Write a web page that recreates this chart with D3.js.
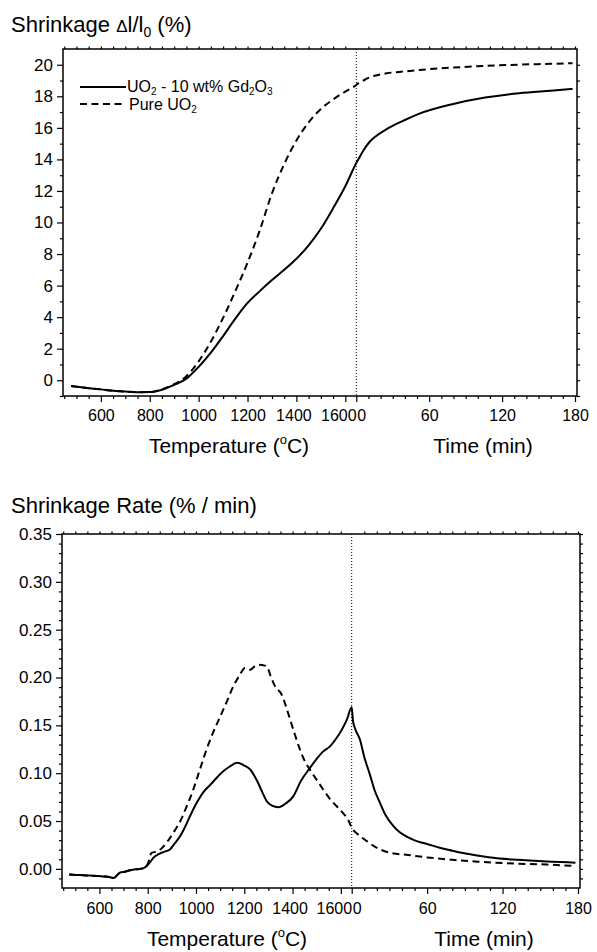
<!DOCTYPE html>
<html>
<head>
<meta charset="utf-8">
<script src="https://cdn.jsdelivr.net/npm/d3@7"></script>
<style>
  body { margin: 0; background: #fff; }
  text { font-family: "Liberation Sans", Arial, sans-serif; fill: #000; }
</style>
</head>
<body>
<svg id="chart" width="597" height="952"></svg>
<script>
// ---- top panel: shrinkage dl/l0 (%) ----
const shrinkTemp = [478, 520, 560, 600, 650, 700, 750, 800, 850, 900, 950, 1000, 1050, 1100, 1150, 1200, 1250, 1300, 1350, 1400, 1450, 1500, 1550, 1600, 1645];
const shrinkGdTemp = [-0.37, -0.45, -0.52, -0.58, -0.66, -0.72, -0.76, -0.75, -0.6, -0.3, 0.1, 0.85, 1.75, 2.8, 3.9, 4.9, 5.65, 6.35, 7.0, 7.7, 8.55, 9.6, 10.9, 12.3, 13.77];
const shrinkPureTemp = [-0.37, -0.45, -0.52, -0.58, -0.66, -0.72, -0.76, -0.75, -0.58, -0.25, 0.25, 1.2, 2.45, 3.95, 5.65, 7.45, 9.5, 11.85, 13.7, 15.2, 16.35, 17.2, 17.8, 18.3, 18.72];
const shrinkTime = [0, 2, 5.7, 11, 15, 25, 40, 52, 79, 106, 134, 160, 178];
const shrinkGdTime = [13.77, 14.05, 14.55, 15.12, 15.4, 15.92, 16.5, 16.9, 17.5, 17.92, 18.2, 18.36, 18.47];
const shrinkPureTime = [18.72, 18.85, 19.0, 19.2, 19.3, 19.46, 19.58, 19.67, 19.82, 19.93, 20.01, 20.06, 20.1];

// ---- bottom panel: shrinkage rate (% / min) ----
const rateGdT = [475, 520, 560, 600, 640, 660, 672, 685, 705, 727, 750, 768, 785, 796, 810, 823, 850, 870, 892, 910, 934, 955, 975, 1003, 1030, 1060, 1085, 1113, 1140, 1171, 1200, 1224, 1255, 1275, 1293, 1315, 1341, 1370, 1403, 1435, 1472, 1500, 1527, 1555, 1580, 1604, 1625, 1645];
const rateGdTVal = [-0.006, -0.0065, -0.007, -0.0075, -0.0085, -0.0095, -0.007, -0.004, -0.003, -0.0015, -0.0005, 0.0, 0.001, 0.003, 0.007, 0.0115, 0.016, 0.018, 0.0202, 0.026, 0.034, 0.044, 0.055, 0.069, 0.080, 0.088, 0.095, 0.102, 0.107, 0.111, 0.108, 0.104, 0.091, 0.080, 0.0706, 0.066, 0.0644, 0.068, 0.0758, 0.092, 0.1055, 0.115, 0.1228, 0.128, 0.136, 0.1455, 0.156, 0.169];
const rateGdTime = [0, 1, 2.6, 6.6, 10, 14.6, 18, 22.5, 27, 33, 38.5, 45, 51.7, 60, 70, 80, 91.6, 105, 118, 132, 145, 160, 178];
const rateGdTimeVal = [0.169, 0.155, 0.147, 0.135, 0.117, 0.098, 0.083, 0.069, 0.056, 0.045, 0.038, 0.033, 0.029, 0.026, 0.022, 0.019, 0.0158, 0.013, 0.0108, 0.0095, 0.0085, 0.0075, 0.0065];
const ratePureT = [475, 520, 560, 600, 640, 660, 672, 685, 705, 727, 750, 768, 785, 800, 816, 835, 851, 880, 906, 941, 961, 989, 1015, 1044, 1070, 1100, 1128, 1155, 1180, 1203, 1224, 1245, 1258, 1275, 1293, 1310, 1327, 1355, 1370, 1390, 1410, 1431, 1450, 1472, 1500, 1527, 1555, 1583, 1610, 1631, 1645];
const ratePureTVal = [-0.006, -0.0065, -0.007, -0.0075, -0.0085, -0.0095, -0.007, -0.004, -0.003, -0.0015, -0.0005, 0.0, 0.001, 0.005, 0.0167, 0.018, 0.020, 0.028, 0.0376, 0.053, 0.065, 0.083, 0.103, 0.125, 0.142, 0.159, 0.175, 0.191, 0.202, 0.210, 0.208, 0.212, 0.2134, 0.213, 0.2116, 0.201, 0.191, 0.182, 0.172, 0.156, 0.14, 0.1246, 0.113, 0.1037, 0.093, 0.083, 0.073, 0.0654, 0.058, 0.051, 0.043];
const ratePureTime = [0, 5, 12, 20, 30, 45, 60, 80, 100, 130, 155, 178];
const ratePureTimeVal = [0.043, 0.036, 0.029, 0.022, 0.017, 0.0145, 0.012, 0.0095, 0.0075, 0.0055, 0.0045, 0.003];

// ticks
const tempTicks = [600, 800, 1000, 1200, 1400, 1600];
const timeTicks = [0, 60, 120, 180];
const shrinkTicks = [0, 2, 4, 6, 8, 10, 12, 14, 16, 18, 20];
const rateTicks = [0.00, 0.05, 0.10, 0.15, 0.20, 0.25, 0.30, 0.35];

const svg = d3.select('#chart');
const FONT = '"Liberation Sans", Arial, sans-serif';

function styleAxis(g, size) {
    g.attr('font-family', FONT).attr('font-size', size);
    g.select('.domain').remove();
    g.selectAll('.tick line').attr('stroke', '#000').attr('stroke-width', 1.2);
}

function panel(o) {
    const g = svg.append('g');
    const xT = d3.scaleLinear().domain([445, 1645]).range([o.left, o.split]);
    const xt = d3.scaleLinear().domain([0, 180]).range([o.split, o.t180]);
    const y = d3.scaleLinear().domain(o.yDomain).range([o.bottom, o.top]);

    const tempMinor = d3.range(450, 1645, 50).filter(d => !tempTicks.includes(d));
    const timeMinor = d3.range(10, 181, 10).filter(d => !timeTicks.includes(d));

    // bottom axis, labels around the ramp/hold split pushed apart as in the original
    g.append('g').attr('transform', `translate(0,${o.bottom})`)
        .call(d3.axisBottom(xT).tickValues(tempTicks).tickSize(6).tickPadding(o.xPad).tickFormat(d3.format('d')))
        .call(a => styleAxis(a, 16))
        .call(a => a.selectAll('.tick text').attr('dx', d => d === 1600 ? -7 : (d === 1400 ? -3 : 0)));
    g.append('g').attr('transform', `translate(0,${o.bottom})`)
        .call(d3.axisBottom(xt).tickValues(timeTicks).tickSize(6).tickPadding(o.xPad).tickFormat(d3.format('d')))
        .call(a => styleAxis(a, 16))
        .call(a => a.selectAll('.tick text').attr('dx', d => d === 0 ? 5 : 0));
    g.append('g').attr('transform', `translate(0,${o.bottom})`)
        .call(d3.axisBottom(xT).tickValues(tempMinor).tickSize(3).tickFormat(''))
        .call(a => styleAxis(a, 10));
    g.append('g').attr('transform', `translate(0,${o.bottom})`)
        .call(d3.axisBottom(xt).tickValues(timeMinor).tickSize(3).tickFormat(''))
        .call(a => styleAxis(a, 10));

    // top mirror ticks
    g.append('g').attr('transform', `translate(0,${o.top})`)
        .call(d3.axisTop(xT).tickValues(d3.range(450, 1645, 50)).tickSize(2.5).tickFormat(''))
        .call(a => styleAxis(a, 10));
    g.append('g').attr('transform', `translate(0,${o.top})`)
        .call(d3.axisTop(xt).tickValues(d3.range(10, 181, 10)).tickSize(2.5).tickFormat(''))
        .call(a => styleAxis(a, 10));

    // left axis
    g.append('g').attr('transform', `translate(${o.left},0)`)
        .call(d3.axisLeft(y).tickValues(o.yTicks).tickSize(6).tickPadding(4).tickFormat(o.fmt))
        .call(a => styleAxis(a, 17));
    g.append('g').attr('transform', `translate(${o.left},0)`)
        .call(d3.axisLeft(y).tickValues(o.yMinor).tickSize(3).tickFormat(''))
        .call(a => styleAxis(a, 10));

    // right mirror ticks
    g.append('g').attr('transform', `translate(${o.right},0)`)
        .call(d3.axisRight(y).tickValues(o.yMinor.concat(o.yTicks)).tickSize(3).tickFormat(''))
        .call(a => styleAxis(a, 10));

    // frame
    g.append('rect')
        .attr('x', o.left).attr('y', o.top)
        .attr('width', o.right - o.left).attr('height', o.bottom - o.top)
        .attr('fill', 'none').attr('stroke', '#000').attr('stroke-width', 1.5);

    // divider between heating ramp and isothermal hold
    g.append('line')
        .attr('x1', xt(0)).attr('x2', xt(0))
        .attr('y1', o.top).attr('y2', o.bottom)
        .attr('stroke', '#000').attr('stroke-width', 1).attr('stroke-dasharray', '1,2');

    const line = d3.line()
        .x(d => d[0])
        .y(d => y(d[1]))
        .curve(d3.curveMonotoneX);

    o.series.forEach(s => {
        // ramp part then hold part; hold t=0 is the same point as the ramp end, so skip it
        const pts = s.tx.map((d, i) => [xT(d), s.tv[i]])
            .concat(s.hx.map((d, i) => [xt(d), s.hv[i]]).slice(1));
        g.append('path')
            .datum(pts)
            .attr('fill', 'none')
            .attr('stroke', '#000')
            .attr('stroke-width', 2)
            .attr('stroke-dasharray', s.dashed ? '7,4.5' : null)
            .attr('d', line);
    });

    // axis titles
    const tt = g.append('text')
        .attr('x', o.tempTitleX).attr('y', o.titleY)
        .attr('text-anchor', 'middle').attr('font-size', 21);
    tt.append('tspan').text('Temperature (');
    tt.append('tspan').text('o').attr('font-size', 13).attr('dy', -9);
    tt.append('tspan').text('C)').attr('dy', 9);

    g.append('text')
        .attr('x', o.timeTitleX).attr('y', o.titleY)
        .attr('text-anchor', 'middle').attr('font-size', 21)
        .text('Time (min)');

    return { g, y };
}

// top chart
panel({
    left: 63, right: 577, top: 49, bottom: 396, split: 356.3, t180: 575,
    yDomain: [-1, 21], yTicks: shrinkTicks, yMinor: d3.range(-1, 21, 2),
    fmt: d3.format('d'), xPad: 8,
    tempTitleX: 229, timeTitleX: 483, titleY: 453,
    series: [
        { tx: shrinkTemp, tv: shrinkGdTemp, hx: shrinkTime, hv: shrinkGdTime, dashed: false },
        { tx: shrinkTemp, tv: shrinkPureTemp, hx: shrinkTime, hv: shrinkPureTime, dashed: true }
    ]
});

// bottom chart
panel({
    left: 62, right: 580, top: 534, bottom: 888, split: 351.7, t180: 578,
    yDomain: [-0.02, 0.35], yTicks: rateTicks,
    yMinor: d3.range(-0.01, 0.35, 0.01).filter(d => Math.abs(Math.round(d * 100) % 5) !== 0),
    fmt: d3.format('.2f'), xPad: 9,
    tempTitleX: 227, timeTitleX: 484, titleY: 946,
    series: [
        { tx: rateGdT, tv: rateGdTVal, hx: rateGdTime, hv: rateGdTimeVal, dashed: false },
        { tx: ratePureT, tv: ratePureTVal, hx: ratePureTime, hv: ratePureTimeVal, dashed: true }
    ]
});

// panel titles
const t1 = svg.append('text').attr('x', 11).attr('y', 32).attr('font-size', 22);
t1.append('tspan').text('Shrinkage ');
t1.append('tspan').text('Δ').attr('font-size', 17);
t1.append('tspan').text('l/l');
t1.append('tspan').text('0').attr('font-size', 14).attr('dy', 5);
t1.append('tspan').text(' (%)').attr('dy', -5);

svg.append('text').attr('x', 11).attr('y', 513).attr('font-size', 22)
    .text('Shrinkage Rate (% / min)');

// legend
const leg = svg.append('g');
leg.append('line').attr('x1', 80).attr('x2', 126).attr('y1', 87).attr('y2', 87)
    .attr('stroke', '#000').attr('stroke-width', 2);
const l1 = leg.append('text').attr('x', 127).attr('y', 92).attr('font-size', 16);
l1.append('tspan').text('UO');
l1.append('tspan').text('2').attr('font-size', 10).attr('dy', 3);
l1.append('tspan').text(' - 10 wt% Gd').attr('dy', -3);
l1.append('tspan').text('2').attr('font-size', 10).attr('dy', 3);
l1.append('tspan').text('O').attr('dy', -3);
l1.append('tspan').text('3').attr('font-size', 10).attr('dy', 3);

leg.append('line').attr('x1', 80).attr('x2', 124).attr('y1', 104).attr('y2', 104)
    .attr('stroke', '#000').attr('stroke-width', 2).attr('stroke-dasharray', '7,4.5');
const l2 = leg.append('text').attr('x', 129).attr('y', 110).attr('font-size', 16);
l2.append('tspan').text('Pure UO');
l2.append('tspan').text('2').attr('font-size', 10).attr('dy', 3);
</script>
</body>
</html>
